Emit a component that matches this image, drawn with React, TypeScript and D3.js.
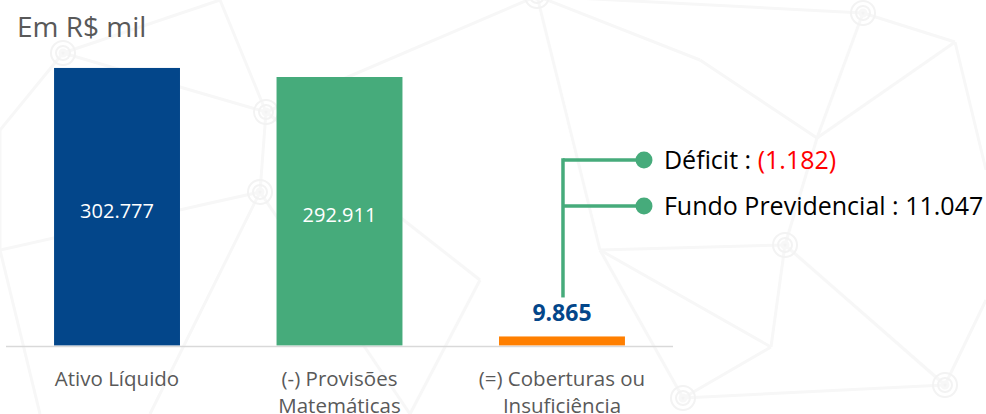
import React from "react";
import * as d3 from "d3";

const categories = ["Ativo Líquido", "(-) Provisões Matemáticas", "(=) Coberturas ou Insuficiência"];
const categoryLines = [["Ativo Líquido"], ["(-) Provisões", "Matemáticas"], ["(=) Coberturas ou", "Insuficiência"]];
const values = [302777, 292911, 9865];
const valueLabels = ["302.777", "292.911", "9.865"];
const barColors = ["#03468a", "#46ab7b", "#ff7f00"];
const annotationNames = ["Déficit", "Fundo Previdencial"];
const annotationValues = ["(1.182)", "11.047"];
const annotationValueColors = ["#ff0000", "#000000"];
const title = "Em R$ mil";

// decorative faint background network
const bgNodes: [number, number, boolean][] = [
  [63, 53, true], [266, 112, true], [260, 192, true], [537, -4, true], [863, 13, true],
  [955, 42, false], [817, 138, false], [785, 245, true], [771, 347, false], [945, 385, true],
  [683, 398, true], [0, 130, false], [0, 250, false], [220, 0, false], [410, 414, false],
  [150, 414, false], [600, 250, false], [986, 300, false], [986, 170, false], [700, 60, false],
  [40, 414, false], [480, 280, false],
];
const bgEdges: [number, number][] = [
  [0, 1], [0, 13], [0, 11], [1, 2], [1, 3], [1, 13], [2, 12], [2, 15], [2, 14], [3, 4],
  [4, 5], [4, 6], [5, 6], [6, 19], [3, 19], [7, 8], [7, 9], [7, 6], [8, 10], [8, 16],
  [9, 17], [9, 10], [10, 16], [5, 18], [7, 16], [1, 21], [21, 14], [11, 12], [12, 20], [3, 16],
];

const W = 986;
const H = 414;
const FONT = "'Open Sans', 'Noto Sans', sans-serif";

export default function App() {
  const x = d3.scaleBand<string>().domain(categories).range([6, 673]).paddingInner(0.434).paddingOuter(0.216);
  const y = d3.scaleLinear().domain([0, 330000]).range([345.5, 43]);
  const bw = x.bandwidth();
  const c3 = x(categories[2])! + bw / 2;
  const topLabelY = y(values[2]) - 15;
  const dotX = c3 + 82;
  const dotY0 = 160;
  const dotGap = 46;

  return (
    <svg width={W} height={H} style={{ position: "absolute", left: 0, top: 0, background: "#fff" }} fontFamily={FONT}>
      <g stroke="#f7f7f7" strokeWidth={3} fill="none">
        {bgEdges.map(([a, b], i) => (
          <line key={i} x1={bgNodes[a][0]} y1={bgNodes[a][1]} x2={bgNodes[b][0]} y2={bgNodes[b][1]} />
        ))}
        {bgNodes.filter((n) => n[2]).map((n, i) => (
          <g key={i}>
            <circle cx={n[0]} cy={n[1]} r={12} strokeWidth={2} stroke="#f3f3f3" />
            <circle cx={n[0]} cy={n[1]} r={7} strokeWidth={2} stroke="#f3f3f3" />
            <circle cx={n[0]} cy={n[1]} r={3} fill="#f3f3f3" />
          </g>
        ))}
      </g>

      <text x={17} y={37} fontSize={28} fill="#595959">{title}</text>

      {categories.map((c, i) => (
        <rect key={c} x={x(c)} y={y(values[i])} width={bw} height={y(0) - y(values[i])} fill={barColors[i]} />
      ))}

      <line x1={6} x2={673} y1={346.5} y2={346.5} stroke="#d9d9d9" strokeWidth={1.5} />

      {categories.slice(0, 2).map((c, i) => (
        <text key={c} x={x(c)! + bw / 2} y={(y(0) + y(values[i])) / 2 + 4} dy="0.35em" textAnchor="middle" fontSize={20} fill="#ffffff">
          {valueLabels[i]}
        </text>
      ))}

      <text x={c3} y={topLabelY} textAnchor="middle" fontSize={23} fontWeight="bold" fill="#03468a">
        {valueLabels[2]}
      </text>

      {categoryLines.map((lines, i) => (
        <text key={i} x={x(categories[i])! + bw / 2} textAnchor="middle" fontSize={20.5} fill="#595959">
          {lines.map((l, j) => (
            <tspan key={j} x={x(categories[i])! + bw / 2} y={386 + j * 26.5}>{l}</tspan>
          ))}
        </text>
      ))}

      <g stroke="#46ab7b" strokeWidth={3.5} fill="none">
        <line x1={c3 + 1} x2={c3 + 1} y1={dotY0 - 1.75} y2={topLabelY - 24} />
        {annotationNames.map((n, i) => (
          <line key={n} x1={c3 + 1} x2={dotX} y1={dotY0 + i * dotGap} y2={dotY0 + i * dotGap} />
        ))}
      </g>
      {annotationNames.map((n, i) => (
        <g key={n}>
          <circle cx={dotX} cy={dotY0 + i * dotGap} r={8.5} fill="#46ab7b" />
          <text x={dotX + 20} y={dotY0 + i * dotGap} dy="0.35em" fontSize={25} fill="#000">
            {n} : <tspan fill={annotationValueColors[i]}>{annotationValues[i]}</tspan>
          </text>
        </g>
      ))}
    </svg>
  );
}
